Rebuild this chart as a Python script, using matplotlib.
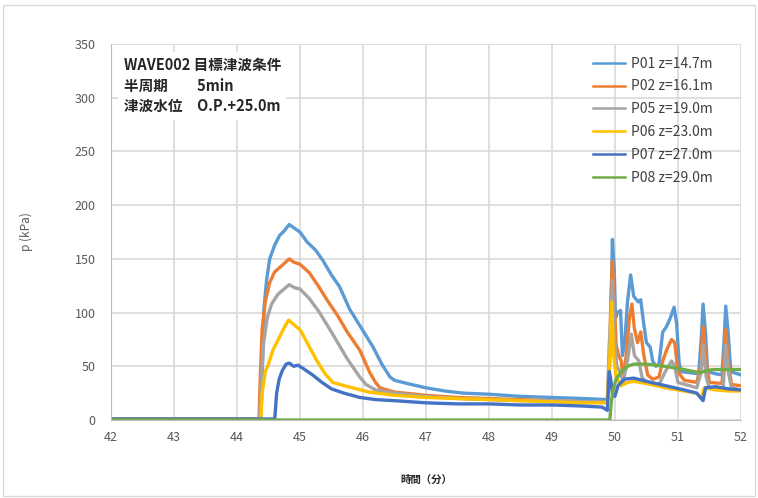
import matplotlib.pyplot as plt
from matplotlib.patches import Rectangle

plt.rcParams['font.family'] = ['Noto Sans CJK JP', 'DejaVu Sans']

# values (time in minutes, pressure in kPa)
t_p01 = [42, 44.38, 44.41, 44.43, 44.47, 44.52, 44.6, 44.68, 44.75, 44.83, 44.9, 45.0, 45.11, 45.25,
         45.37, 45.5, 45.63, 45.79, 45.95, 46.16, 46.3, 46.43, 46.5, 46.7, 47.0, 47.3, 47.6, 48.0, 48.5,
         49.0, 49.5, 49.88, 49.91, 49.94, 49.96, 49.99, 50.01, 50.04, 50.09, 50.12, 50.16, 50.2, 50.25,
         50.3, 50.37, 50.41, 50.45, 50.5, 50.56, 50.6, 50.65, 50.7, 50.76, 50.82, 50.88, 50.94, 50.98,
         51.02, 51.05, 51.2, 51.33, 51.37, 51.4, 51.44, 51.47, 51.6, 51.7, 51.73, 51.76, 51.8, 51.84, 52.0]
p_p01 = [1, 1, 60, 105, 130, 150, 163, 172, 176, 182, 179, 175, 166, 158,
         148, 135, 124, 103, 88, 68, 52, 40, 37, 34, 30, 27, 25, 24, 22,
         21, 20, 19, 40, 100, 168, 140, 95, 100, 102, 60, 75, 110, 135,
         115, 110, 112, 93, 72, 68, 55, 50, 52, 82, 87, 95, 105, 90,
         53, 45, 44, 43, 75, 108, 80, 45, 43, 42, 70, 106, 80, 45, 42]

t_p02 = [42, 44.35, 44.37, 44.4, 44.45, 44.52, 44.6, 44.7, 44.83, 44.9, 45.0, 45.15, 45.3, 45.45,
         45.6, 45.75, 45.95, 46.11, 46.2, 46.27, 46.5, 47.0, 47.5, 48.0, 48.5, 49.0, 49.5, 49.88,
         49.91, 49.94, 49.96, 49.99, 50.02, 50.06, 50.1, 50.13, 50.18, 50.23, 50.27, 50.31, 50.36,
         50.41, 50.46, 50.52, 50.6, 50.7, 50.76, 50.82, 50.9, 50.95, 51.0, 51.1, 51.3, 51.36, 51.4,
         51.45, 51.5, 51.7, 51.73, 51.76, 51.8, 51.85, 52.0]
p_p02 = [1, 1, 40, 85, 110, 128, 138, 143, 150, 147, 145, 137, 124, 110,
         97, 82, 65, 44, 35, 30, 26, 23, 21, 20, 19, 18, 17, 17,
         50, 120, 148, 110, 70, 60, 55, 40, 60, 95, 108, 85, 72,
         82, 60, 42, 38, 40, 55, 65, 75, 72, 45, 37, 35, 50, 87,
         55, 35, 34, 55, 84, 55, 33, 32]

t_p05 = [42, 44.36, 44.38, 44.42, 44.48, 44.55, 44.65, 44.75, 44.83, 44.92, 45.0, 45.15, 45.3, 45.52,
         45.75, 45.95, 46.05, 46.2, 46.5, 47.0, 47.5, 48.0, 48.5, 49.0, 49.5, 49.88, 49.91, 49.94,
         49.96, 49.99, 50.03, 50.08, 50.13, 50.2, 50.26, 50.31, 50.38, 50.43, 50.5, 50.7, 50.8, 50.9,
         50.95, 51.0, 51.3, 51.37, 51.4, 51.45, 51.5, 51.72, 51.76, 51.8, 51.85, 52.0]
p_p05 = [1, 1, 30, 70, 95, 108, 117, 122, 126, 123, 122, 113, 101, 80,
         57, 40, 33, 28, 25, 22, 20, 19, 18, 18, 17, 17, 70, 100,
         130, 80, 50, 45, 35, 55, 80, 60, 55, 40, 35, 33, 45, 55,
         50, 35, 30, 45, 70, 40, 30, 30, 70, 45, 30, 28]

t_p06 = [42, 44.38, 44.4, 44.45, 44.5, 44.57, 44.64, 44.75, 44.82, 44.9, 45.0, 45.05, 45.15, 45.26,
         45.4, 45.52, 45.7, 45.9, 46.1, 46.5, 47.0, 47.5, 48.0, 48.5, 49.0, 49.5, 49.88, 49.92, 49.95,
         49.98, 50.02, 50.1, 50.2, 50.3, 50.5, 50.8, 51.1, 51.3, 51.37, 51.42, 51.6, 51.8, 52.0]
p_p06 = [1, 1, 25, 45, 52, 65, 73, 86, 93, 89, 84, 79, 68, 56,
         43, 35, 32, 29, 26, 23, 21, 20, 19, 18, 17, 16, 16, 60, 110,
         60, 40, 32, 35, 36, 34, 30, 27, 25, 20, 30, 28, 27, 27]

t_p07 = [42, 44.6, 44.63, 44.67, 44.72, 44.78, 44.83, 44.9, 44.97, 45.05, 45.2, 45.35, 45.5, 45.7,
         45.95, 46.2, 46.5, 47.0, 47.5, 48.0, 48.5, 49.0, 49.5, 49.8, 49.88, 49.91, 49.93, 49.96,
         50.0, 50.05, 50.15, 50.3, 50.5, 50.8, 51.1, 51.3, 51.4, 51.44, 51.6, 51.8, 52.0]
p_p07 = [1, 1, 25, 38, 46, 52, 53, 50, 51, 48, 42, 35, 29, 25,
         21, 19, 18, 16, 15, 15, 14, 14, 13, 12, 9, 45, 40, 25,
         22, 32, 38, 39, 36, 32, 28, 25, 18, 30, 31, 29, 28]

t_p08 = [42, 49.92, 49.94, 49.97, 50.02, 50.1, 50.2, 50.3, 50.5, 50.8, 51.1, 51.35, 51.4, 51.55,
         51.8, 52.0]
p_p08 = [0, 0, 15, 28, 38, 45, 50, 52, 52, 50, 47, 44, 45, 47, 47, 47]

labels = ['P01 z=14.7m', 'P02 z=16.1m', 'P05 z=19.0m', 'P06 z=23.0m', 'P07 z=27.0m', 'P08 z=29.0m']
colors = ['#5B9BD5', '#ED7D31', '#A5A5A5', '#FFC000', '#4472C4', '#70AD47']
series = [(t_p01, p_p01), (t_p02, p_p02), (t_p05, p_p05), (t_p06, p_p06), (t_p07, p_p07), (t_p08, p_p08)]

fig = plt.figure(figsize=(7.58, 4.98), dpi=100)
ax = fig.add_axes([0.1464, 0.1566, 0.831, 0.755])

for (t, p), c, lab in zip(series, colors, labels):
    ax.plot(t, p, color=c, lw=2.4, label=lab, solid_joinstyle='round')

ax.set_xlim(42, 52)
ax.set_ylim(0, 350)
ax.set_xticks(range(42, 53))
ax.set_yticks(range(0, 351, 50))
ax.grid(True, color='#D9D9D9', lw=1.2)
ax.set_axisbelow(True)
ax.tick_params(length=0, labelsize=9, colors='#595959')
ax.tick_params(axis='y', pad=11)
ax.tick_params(axis='x', pad=8)
for s in ['top', 'right']:
    ax.spines[s].set_visible(False)
for s in ['left', 'bottom']:
    ax.spines[s].set_color('#BFBFBF')

ax.set_xlabel('時間（分）', fontsize=7.5, color='#262626', labelpad=22, fontweight='bold')
ax.set_ylabel('p (kPa)', fontsize=8.5, color='#595959', labelpad=30)

leg = ax.legend(loc='upper right', bbox_to_anchor=(0.975, 1.0), frameon=False, fontsize=10,
                handlelength=2.3, labelspacing=0.64, handletextpad=0.45, labelcolor='#404040')
for line in leg.get_lines():
    line.set_linewidth(1.8)

info = 'WAVE002 目標津波条件\n半周期　　5min\n津波水位　O.P.+25.0m'
ax.text(0.02, 0.965, info, transform=ax.transAxes, fontsize=10.5, va='top', ha='left',
        color='#262626', linespacing=1.35, fontweight='bold',
        bbox=dict(facecolor='white', edgecolor='none', pad=4))

fig.patches.append(Rectangle((0.004, 0.004), 0.992, 0.985, transform=fig.transFigure,
                             fill=False, edgecolor='#D9D9D9', lw=1))

fig.savefig('out.png', dpi=100)
